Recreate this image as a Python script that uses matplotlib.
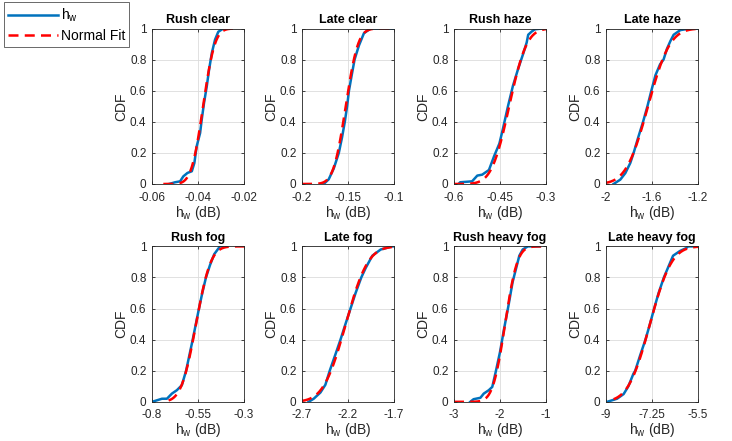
import math
import numpy as np
import matplotlib
matplotlib.use("Agg")
import matplotlib.pyplot as plt

plt.rcParams['font.family'] = ['Liberation Sans', 'DejaVu Sans']
plt.rcParams['axes.unicode_minus'] = False

titles = ['Rush clear', 'Late clear', 'Rush haze', 'Late haze',
          'Rush fog', 'Late fog', 'Rush heavy fog', 'Late heavy fog']

xlims = [(-0.06, -0.02), (-0.2, -0.1), (-0.6, -0.3), (-2.0, -1.2),
         (-0.8, -0.3), (-2.7, -1.7), (-3.0, -1.0), (-9.0, -5.5)]
xticks = [[-0.06, -0.04, -0.02], [-0.2, -0.15, -0.1], [-0.6, -0.45, -0.3],
          [-2.0, -1.6, -1.2], [-0.8, -0.55, -0.3], [-2.7, -2.2, -1.7],
          [-3.0, -2.0, -1.0], [-9.0, -7.25, -5.5]]
xtick_labels = [['-0.06', '-0.04', '-0.02'], ['-0.2', '-0.15', '-0.1'],
                ['-0.6', '-0.45', '-0.3'], ['-2', '-1.6', '-1.2'],
                ['-0.8', '-0.55', '-0.3'], ['-2.7', '-2.2', '-1.7'],
                ['-3', '-2', '-1'], ['-9', '-7.25', '-5.5']]

emp_x = [
    [-0.0526, -0.050, -0.0478, -0.0464, -0.0446, -0.0427, -0.0416, -0.0406, -0.0391,
     -0.0384, -0.0374, -0.0362, -0.0352, -0.0340, -0.0326, -0.0312, -0.0290],
    [-0.1764, -0.171, -0.1655, -0.160, -0.1565, -0.1535, -0.151, -0.149, -0.146,
     -0.1429, -0.1382, -0.1327, -0.1254, -0.1],
    [-0.585, -0.58, -0.541, -0.524, -0.508, -0.486, -0.469, -0.452, -0.441, -0.424,
     -0.408, -0.391, -0.374, -0.363, -0.358, -0.347, -0.336, -0.313],
    [-1.934, -1.876, -1.832, -1.789, -1.76, -1.72, -1.678, -1.64, -1.606, -1.57,
     -1.53, -1.50, -1.47, -1.44, -1.412, -1.354, -1.267, -1.2],
    [-0.8, -0.773, -0.746, -0.719, -0.692, -0.665, -0.638, -0.615, -0.597, -0.579,
     -0.562, -0.545, -0.527, -0.507, -0.485, -0.462, -0.431, -0.415],
    [-2.628, -2.573, -2.5, -2.446, -2.399, -2.34, -2.282, -2.228, -2.173, -2.118,
     -2.056, -2.009, -1.936, -1.845, -1.717, -1.7],
    [-2.647, -2.574, -2.426, -2.353, -2.243, -2.168, -2.095, -2.0, -1.911, -1.815,
     -1.726, -1.653, -1.58, -1.506, -1.395, -1.14],
    [-8.96, -8.58, -8.33, -8.15, -7.96, -7.89, -7.7, -7.5, -7.33, -7.17, -7.0, -6.8,
     -6.6, -6.45, -6.19, -5.94, -5.88, -5.5],
]
emp_f = [
    [0, 0.011, 0.017, 0.049, 0.071, 0.082, 0.135, 0.242, 0.328, 0.414, 0.521, 0.629,
     0.736, 0.843, 0.929, 0.979, 1.0],
    [0, 0.03, 0.1, 0.2, 0.3, 0.4, 0.5, 0.6, 0.7, 0.8, 0.89, 0.97, 1.0, 1.0],
    [0, 0.011, 0.017, 0.054, 0.06, 0.09, 0.18, 0.26, 0.35, 0.5, 0.63, 0.74, 0.84,
     0.91, 0.96, 0.98, 0.995, 1.0],
    [0, 0.028, 0.07, 0.135, 0.2, 0.3, 0.4, 0.5, 0.6, 0.7, 0.77, 0.80, 0.87, 0.92,
     0.96, 0.99, 1.0, 1.0],
    [0, 0.01, 0.02, 0.02, 0.053, 0.075, 0.107, 0.2, 0.3, 0.4, 0.5, 0.6, 0.7, 0.8,
     0.88, 0.95, 1.0, 1.0],
    [0, 0.02, 0.06, 0.11, 0.2, 0.3, 0.4, 0.5, 0.6, 0.7, 0.8, 0.86, 0.94, 0.98, 1.0,
     1.0],
    [0, 0.017, 0.026, 0.053, 0.075, 0.096, 0.19, 0.32, 0.47, 0.62, 0.77, 0.855, 0.94,
     0.98, 1.0, 1.0],
    [0, 0.02, 0.05, 0.1, 0.18, 0.2, 0.3, 0.4, 0.5, 0.6, 0.7, 0.8, 0.88, 0.94, 0.97,
     0.99, 1.0, 1.0],
]

# normal fit parameters and the span the fit line is drawn over
fit_mu = [-0.0378, -0.1525, -0.42, -1.635, -0.561, -2.225, -1.89, -7.33]
fit_sigma = [0.0040, 0.0105, 0.045, 0.15, 0.063, 0.19, 0.21, 0.65]
fit_span = [(-0.0551, -0.0246), (-0.2, -0.1), (-0.6, -0.3), (-2.0, -1.2),
            (-0.71, -0.3), (-2.7, -1.7), (-3.0, -1.0), (-8.71, -5.5)]

blue = '#0072BD'
dark = '#262626'

fig = plt.figure(figsize=(7.32, 4.41), dpi=100)

lefts = [0.2077, 0.4126, 0.6202, 0.8279]
bottoms = [0.5828, 0.0888]
w, h = 0.1257, 0.3525

for i in range(8):
    ax = fig.add_axes([lefts[i % 4], bottoms[i // 4], w, h])
    ln1, = ax.plot(emp_x[i], emp_f[i], color=blue, lw=1.8, label='h$_\\mathregular{w}$')
    xs = np.linspace(fit_span[i][0], fit_span[i][1], 200)
    fs = [0.5 * (1 + math.erf((v - fit_mu[i]) / (fit_sigma[i] * math.sqrt(2)))) for v in xs]
    ln2, = ax.plot(xs, fs, color='red', lw=1.8, ls=(0, (4, 2.5)), label='Normal Fit')

    ax.set_xlim(*xlims[i])
    ax.set_ylim(0, 1)
    ax.set_xticks(xticks[i])
    ax.set_xticklabels(xtick_labels[i])
    ax.set_yticks([0, 0.2, 0.4, 0.6, 0.8, 1])
    ax.set_yticklabels(['0', '0.2', '0.4', '0.6', '0.8', '1'])
    ax.grid(True, color='#dcdcdc', lw=0.6)
    ax.set_axisbelow(True)
    ax.tick_params(direction='in', length=2.5, width=0.6, top=True, right=True,
                   labelsize=8.5, colors=dark)
    ax.tick_params(axis='x', pad=5.5)
    ax.tick_params(axis='y', pad=4)
    for s in ax.spines.values():
        s.set_color(dark)
        s.set_linewidth(0.6)
    ax.set_title(titles[i], fontsize=9, fontweight='bold', pad=4)
    ax.set_xlabel('h$_\\mathregular{w}$ (dB)', fontsize=10, color=dark, labelpad=0)
    ax.set_ylabel('CDF', fontsize=10, color=dark, labelpad=1)

leg = fig.legend(handles=[ln1, ln2], loc='upper left', bbox_to_anchor=(0.005, 0.995),
                 fontsize=10, frameon=True, fancybox=False, handlelength=3.6,
                 borderpad=0.3, labelspacing=0.35, handletextpad=0.2, borderaxespad=0)
leg.get_frame().set_edgecolor(dark)
leg.get_frame().set_linewidth(0.6)

fig.savefig('out.png', dpi=100)
